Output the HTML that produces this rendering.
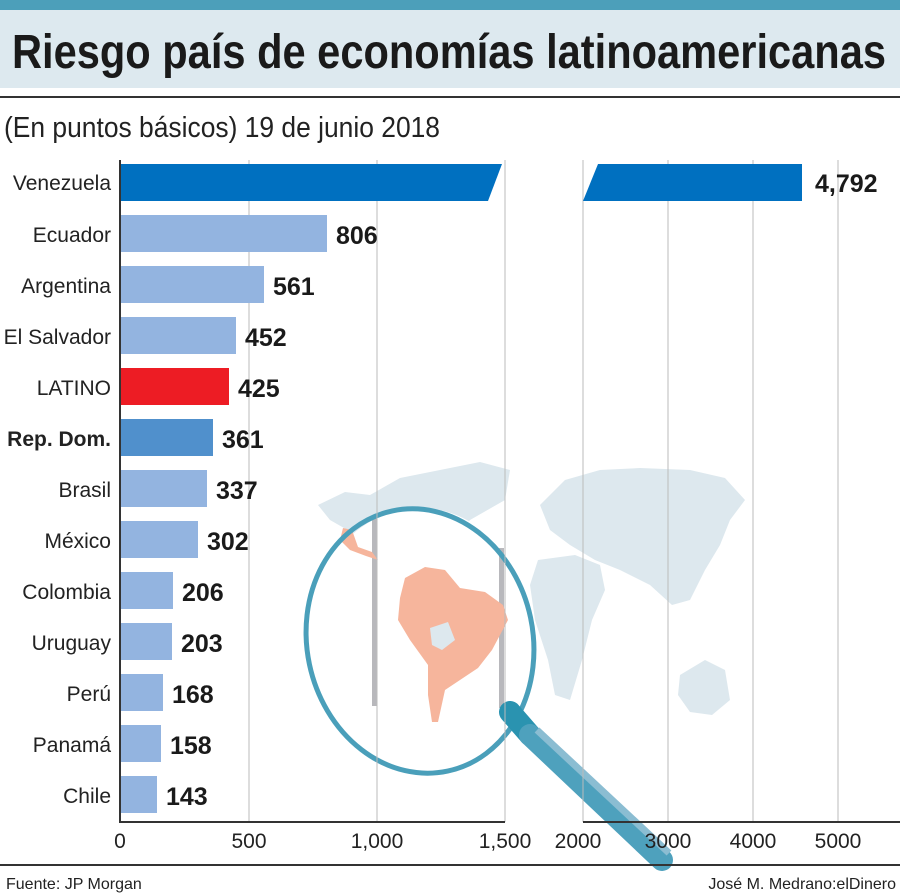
<!DOCTYPE html>
<html><head><meta charset="utf-8"><style>
html,body{margin:0;padding:0;background:#fff}
svg{display:block}
text{font-family:"Liberation Sans",sans-serif}
</style></head><body>
<svg width="900" height="896" viewBox="0 0 900 896" xmlns="http://www.w3.org/2000/svg">
<rect x="0" y="0" width="900" height="10" fill="#4c9fba"/>
<rect x="0" y="10" width="900" height="78" fill="#dde9ef"/>
<text x="12" y="68" font-size="48" font-weight="bold" fill="#1a1a1a" textLength="874" lengthAdjust="spacingAndGlyphs">Riesgo país de economías latinoamericanas</text>
<rect x="0" y="96" width="900" height="2" fill="#333"/>
<text x="4" y="137" font-size="29" fill="#222" textLength="436" lengthAdjust="spacingAndGlyphs">(En puntos básicos) 19 de junio  2018</text>

<g fill="#dde8ee">
<path d="M318,505 L345,492 L370,495 L400,478 L440,470 L480,462 L510,470 L505,500 L470,520 L450,545 L420,560 L395,555 L365,540 L330,520 Z"/>
<path d="M540,505 L565,480 L600,470 L640,468 L690,470 L725,478 L745,500 L730,520 L720,545 L705,570 L690,600 L672,605 L650,585 L620,570 L595,560 L570,545 L550,530 Z"/>
<path d="M538,560 L575,555 L600,565 L605,590 L592,620 L582,660 L570,700 L555,695 L548,660 L535,620 L530,585 Z"/>
<path d="M680,675 L705,660 L725,670 L730,700 L712,715 L690,712 L678,695 Z"/>
</g>
<ellipse cx="420" cy="641" rx="113" ry="133" fill="#fff"/>
<rect x="372" y="518" width="5" height="188" fill="#b8b8bc"/>
<rect x="499" y="548" width="5" height="160" fill="#b8b8bc"/>
<path d="M343,528 L352,530 L358,547 L372,552 L378,560 L366,556 L350,550 L340,540 Z" fill="#f6b59c"/>
<path d="M405,578 L425,567 L445,570 L460,588 L485,592 L503,605 L508,620 L492,650 L478,668 L460,680 L445,690 L438,722 L432,722 L428,695 L428,665 L410,640 L398,620 L400,598 Z" fill="#f6b59c"/>
<path d="M430,628 L448,622 L455,640 L442,650 L432,645 Z" fill="#dde8ee"/>
<ellipse cx="420" cy="641" rx="113" ry="133" fill="none" stroke="#4a9fba" stroke-width="5" transform="rotate(-12 420 641)"/>
<line x1="510" y1="712" x2="530" y2="735" stroke="#2a93b0" stroke-width="22" stroke-linecap="round"/>
<line x1="530" y1="735" x2="662" y2="860" stroke="#4ea1bd" stroke-width="22" stroke-linecap="round"/>
<line x1="537" y1="730" x2="669" y2="853" stroke="#8bbdd2" stroke-width="7"/>

<g stroke="#bbb" stroke-width="1">
<line x1="249" y1="160" x2="249" y2="822"/>
<line x1="377" y1="160" x2="377" y2="822"/>
<line x1="505" y1="160" x2="505" y2="822"/>
<line x1="583" y1="160" x2="583" y2="822"/>
<line x1="668" y1="160" x2="668" y2="822"/>
<line x1="753" y1="160" x2="753" y2="822"/>
<line x1="838" y1="160" x2="838" y2="822"/>
</g>
<rect x="119" y="160" width="2" height="663" fill="#333"/>
<rect x="120" y="821" width="385" height="2" fill="#333"/>
<rect x="583" y="821" width="317" height="2" fill="#333"/>

<path d="M121,164 L502,164 L488,201 L121,201 Z" fill="#0070c0"/>
<path d="M598,164 L802,164 L802,201 L583,201 Z" fill="#0070c0"/>
<g fill="#93b4e0">
<rect x="121" y="215" width="206" height="37"/>
<rect x="121" y="266" width="143" height="37"/>
<rect x="121" y="317" width="115" height="37"/>
<rect x="121" y="470" width="86" height="37"/>
<rect x="121" y="521" width="77" height="37"/>
<rect x="121" y="572" width="52" height="37"/>
<rect x="121" y="623" width="51" height="37"/>
<rect x="121" y="674" width="42" height="37"/>
<rect x="121" y="725" width="40" height="37"/>
<rect x="121" y="776" width="36" height="37"/>
</g>
<rect x="121" y="368" width="108" height="37" fill="#ed1c24"/>
<rect x="121" y="419" width="92" height="37" fill="#5090cc"/>

<g font-size="21" fill="#222" text-anchor="end">
<text x="111" y="190">Venezuela</text>
<text x="111" y="242">Ecuador</text>
<text x="111" y="293">Argentina</text>
<text x="111" y="344">El Salvador</text>
<text x="111" y="395">LATINO</text>
<text x="111" y="446" font-weight="bold">Rep. Dom.</text>
<text x="111" y="497">Brasil</text>
<text x="111" y="548">México</text>
<text x="111" y="599">Colombia</text>
<text x="111" y="650">Uruguay</text>
<text x="111" y="701">Perú</text>
<text x="111" y="752">Panamá</text>
<text x="111" y="803">Chile</text>
</g>
<g font-size="25" font-weight="bold" fill="#1a1a1a">
<text x="815" y="192">4,792</text>
<text x="336" y="244">806</text>
<text x="273" y="295">561</text>
<text x="245" y="346">452</text>
<text x="238" y="397">425</text>
<text x="222" y="448">361</text>
<text x="216" y="499">337</text>
<text x="207" y="550">302</text>
<text x="182" y="601">206</text>
<text x="181" y="652">203</text>
<text x="172" y="703">168</text>
<text x="170" y="754">158</text>
<text x="166" y="805">143</text>
</g>
<g font-size="21" fill="#222" text-anchor="middle">
<text x="120" y="848">0</text>
<text x="249" y="848">500</text>
<text x="377" y="848">1,000</text>
<text x="505" y="848">1,500</text>
<text x="578" y="848">2000</text>
<text x="668" y="848">3000</text>
<text x="753" y="848">4000</text>
<text x="838" y="848">5000</text>
</g>
<rect x="0" y="864" width="900" height="2" fill="#333"/>
<text x="6" y="889" font-size="16" fill="#222">Fuente: JP Morgan</text>
<text x="896" y="889" font-size="16" fill="#222" text-anchor="end">José M. Medrano:elDinero</text>
</svg>
</body></html>
